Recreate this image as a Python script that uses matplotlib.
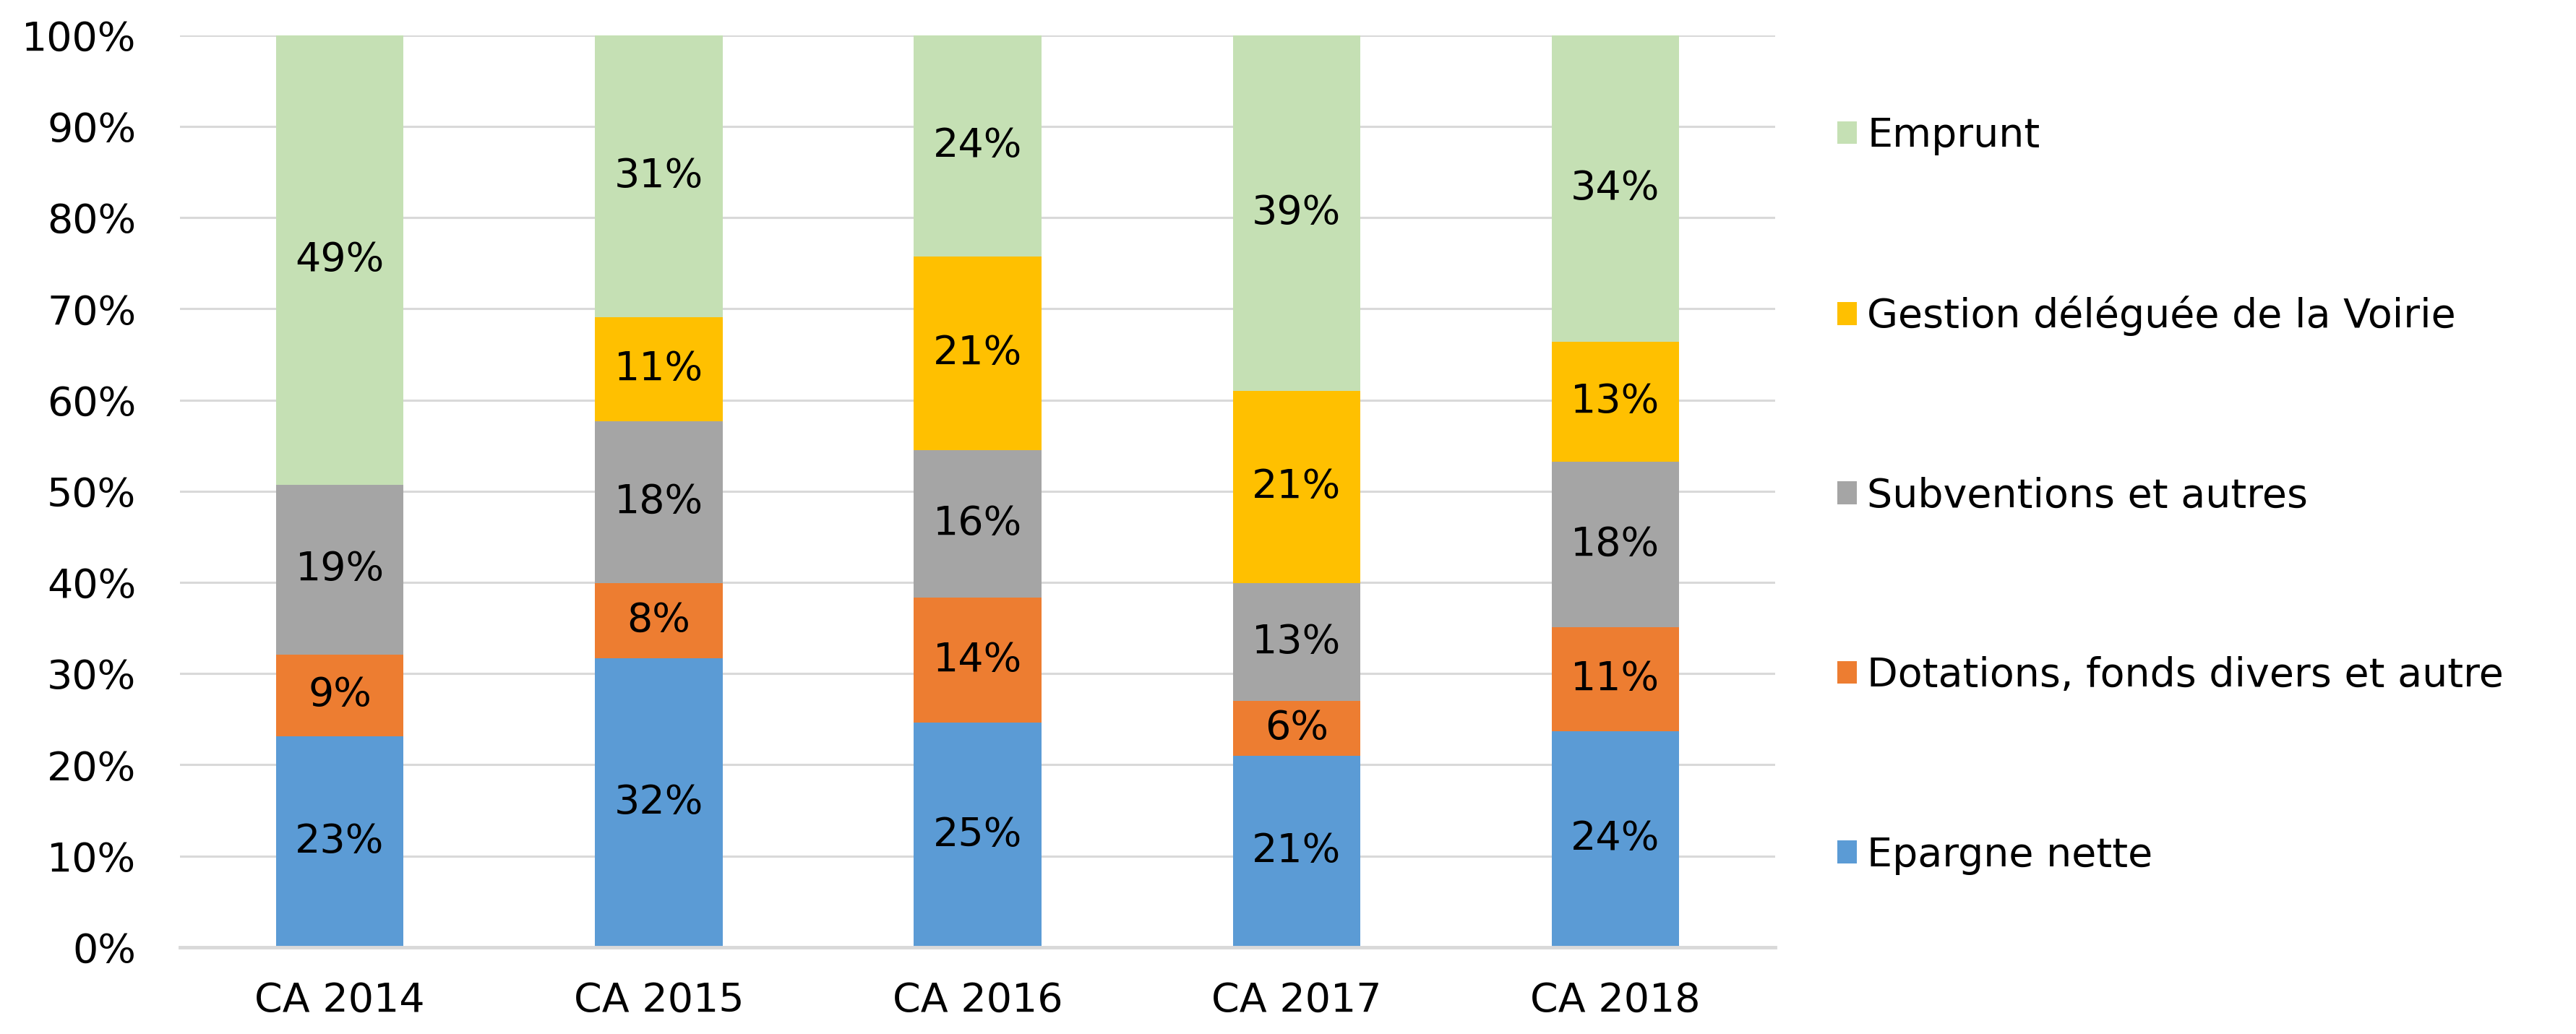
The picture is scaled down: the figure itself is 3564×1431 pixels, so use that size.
import matplotlib
matplotlib.use("Agg")
import matplotlib.pyplot as plt
from matplotlib.patches import Patch
import numpy as np

categories = ["CA 2014", "CA 2015", "CA 2016", "CA 2017", "CA 2018"]
series_names = ["Epargne nette", "Dotations, fonds divers et autre", "Subventions et autres",
                "Gestion déléguée de la Voirie", "Emprunt"]
epargne = [23.1, 31.7, 24.6, 21.0, 23.7]
dotations = [9.0, 8.2, 13.7, 6.0, 11.4]
subventions = [18.6, 17.8, 16.2, 12.9, 18.1]
gestion = [0.0, 11.4, 21.2, 21.1, 13.2]
emprunt = [49.3, 30.9, 24.3, 39.0, 33.6]
yticklabels = ["0%", "10%", "20%", "30%", "40%", "50%", "60%", "70%", "80%", "90%", "100%"]

colors = ["#5B9BD5", "#ED7D31", "#A5A5A5", "#FFC000", "#C5E0B4"]
series = [epargne, dotations, subventions, gestion, emprunt]

plt.rcParams['font.family'] = ['DejaVu Sans']
FS = 40

fig = plt.figure(figsize=(35.64, 14.31), dpi=100)
ax = fig.add_axes([0.070, 0.084, 0.619, 0.882])

x = np.arange(len(categories))
bottom = np.zeros(len(categories))
for vals, col in zip(series, colors):
    vals = np.array(vals)
    ax.bar(x, vals, bottom=bottom, width=0.4, color=col, zorder=2)
    for xi, b, v in zip(x, bottom, vals):
        if v > 0:
            ax.text(xi, b + v / 2, f"{v:.0f}%", ha="center", va="center",
                    fontsize=FS, color="#000000", zorder=3)
    bottom = bottom + vals

ax.set_xlim(-0.5, 4.5)
ax.set_ylim(0, 100)
ax.set_yticks(np.arange(0, 101, 10))
ax.set_yticklabels(yticklabels)
ax.set_xticks(x)
ax.set_xticklabels(categories)
ax.tick_params(axis="y", length=0, pad=44, labelsize=FS, labelcolor="#000000")
ax.tick_params(axis="x", length=0, pad=34, labelsize=FS, labelcolor="#000000")
ax.yaxis.grid(True, color="#D9D9D9", linewidth=2.2, zorder=0)
ax.set_axisbelow(True)
for s in ["top", "right", "left"]:
    ax.spines[s].set_visible(False)
ax.spines["bottom"].set_color("#D9D9D9")
ax.spines["bottom"].set_linewidth(3.5)

handles = [Patch(facecolor=c, edgecolor="none") for c in colors]
leg = ax.legend(handles[::-1], series_names[::-1], loc="center left",
                bbox_to_anchor=(1.039, 0.495), frameon=False, fontsize=FS,
                handlelength=0.5, handleheight=0.5, handletextpad=0.25,
                labelspacing=3.5, borderaxespad=0, borderpad=0)

fig.savefig("out.png", dpi=100, facecolor="white")
